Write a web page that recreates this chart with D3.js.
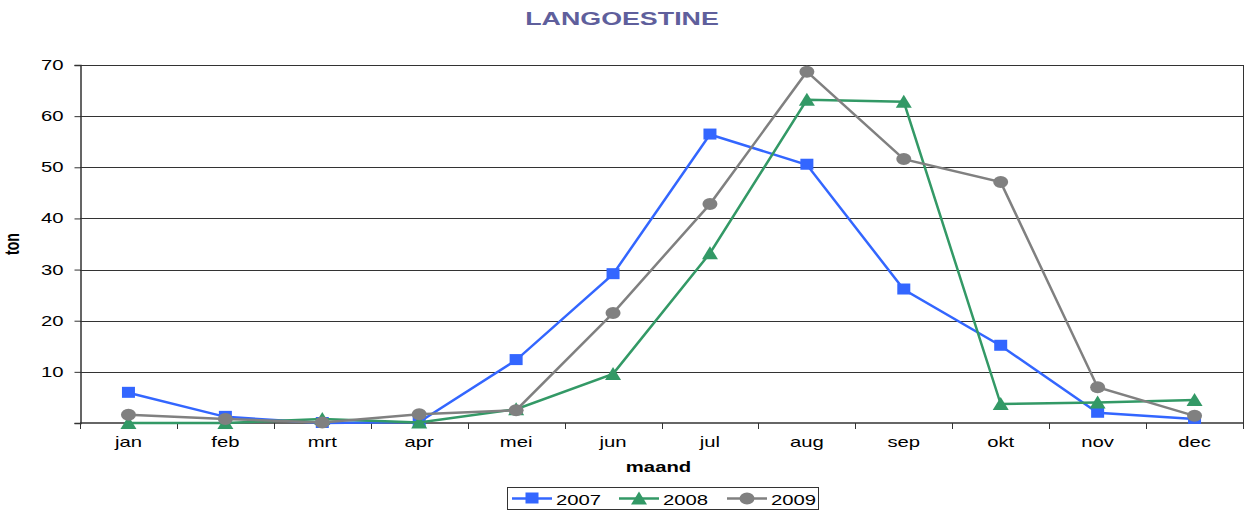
<!DOCTYPE html>
<html>
<head>
<meta charset="utf-8">
<script src="https://cdn.jsdelivr.net/npm/d3@7"></script>
<style>
  body { margin: 0; background: #fff; }
  svg { display: block; font-family: "Liberation Sans", Arial, sans-serif; }
</style>
</head>
<body>
<div id="chart"></div>
<script>
const months = ["jan", "feb", "mrt", "apr", "mei", "jun", "jul", "aug", "sep", "okt", "nov", "dec"];
const yTicks = [10, 20, 30, 40, 50, 60, 70];
const v2007 = [5.9, 1.2, 0, 0.2, 12.3, 29.1, 56.4, 50.5, 26.1, 15.1, 2.0, 0.8];
const v2008 = [0, 0, 0.8, 0.1, 2.7, 9.6, 33.2, 63.2, 62.8, 3.7, 4.0, 4.5];
const v2009 = [1.6, 0.8, 0.1, 1.7, 2.5, 21.5, 42.8, 68.7, 51.6, 47.1, 7.0, 1.4];

const series = [
  { name: "2007", values: v2007, color: "#3366ff", marker: "square" },
  { name: "2008", values: v2008, color: "#339966", marker: "triangle" },
  { name: "2009", values: v2009, color: "#808080", marker: "circle" },
];

const width = 1245, height = 512;
const margin = { top: 65, right: 2, bottom: 89, left: 80 };
const sx = 1.45; // the original text is drawn horizontally stretched

const svg = d3.select("#chart").append("svg")
  .attr("width", width).attr("height", height);

const x = d3.scaleBand().domain(months)
  .range([margin.left, width - margin.right]);
const y = d3.scaleLinear().domain([0, 70])
  .range([height - margin.bottom, margin.top]);

// stretched text at (px, py)
function label(g, px, py, str, size, anchor) {
  return g.append("text")
    .attr("transform", `translate(${px},${py}) scale(${sx},1)`)
    .attr("text-anchor", anchor || "middle")
    .attr("font-size", size)
    .attr("fill", "#000")
    .text(str);
}

// title
label(svg, 622, 25, "LANGOESTINE", 18.5)
  .attr("font-weight", "bold")
  .attr("fill", "#5f5f9c");

// gridlines
svg.append("g")
  .selectAll("line")
  .data(yTicks)
  .join("line")
  .attr("x1", margin.left).attr("x2", width - margin.right)
  .attr("y1", d => Math.round(y(d)) + 0.5).attr("y2", d => Math.round(y(d)) + 0.5)
  .attr("stroke", "#333").attr("stroke-width", 1);

// right border
svg.append("line")
  .attr("x1", width - margin.right + 0.5).attr("x2", width - margin.right + 0.5)
  .attr("y1", y(70)).attr("y2", y(0))
  .attr("stroke", "#333");

// y axis
const gY = svg.append("g")
  .attr("transform", `translate(${margin.left + 0.5},0)`)
  .call(d3.axisLeft(y).tickValues([0, ...yTicks]).tickSize(6).tickFormat(""));
gY.select(".domain").attr("stroke", "#333").attr("stroke-width", 1.5);
gY.selectAll(".tick line").attr("stroke", "#333");
yTicks.forEach(d => label(gY, -17, y(d) + 5, d, 14, "end"));

// x axis
const gX = svg.append("g")
  .attr("transform", `translate(0,${y(0)})`);
gX.append("line")
  .attr("x1", margin.left).attr("x2", width - margin.right)
  .attr("stroke", "#333").attr("stroke-width", 1.5);
gX.selectAll(".xtick")
  .data(months.map(m => x(m)).concat([width - margin.right]))
  .join("line")
  .attr("class", "xtick")
  .attr("x1", d => Math.round(d) + 0.5).attr("x2", d => Math.round(d) + 0.5)
  .attr("y1", 0).attr("y2", 6)
  .attr("stroke", "#333");
months.forEach(m => label(gX, x(m) + x.bandwidth() / 2, 24, m, 14));

// axis titles
label(svg, x("jul") - 3, 472, "maand", 14).attr("font-weight", "bold");
svg.append("text")
  .attr("transform", `translate(19,${(y(0) + y(70)) / 2}) scale(${sx},1) rotate(-90)`)
  .attr("text-anchor", "middle")
  .attr("font-size", 14).attr("font-weight", "bold")
  .text("ton");

function drawMarker(g, type, color) {
  if (type === "square") {
    g.append("rect").attr("x", -6.5).attr("y", -6).attr("width", 13).attr("height", 11)
      .attr("fill", color);
  } else if (type === "triangle") {
    g.append("path").attr("d", "M0,-7L8,6L-8,6Z").attr("fill", color);
  } else {
    g.append("ellipse").attr("rx", 7.5).attr("ry", 6).attr("fill", color);
  }
}

const line = d3.line()
  .x((d, i) => x(months[i]) + x.bandwidth() / 2)
  .y(d => y(d));

const gSeries = svg.append("g")
  .selectAll("g")
  .data(series)
  .join("g");

gSeries.append("path")
  .attr("d", d => line(d.values))
  .attr("fill", "none")
  .attr("stroke", d => d.color)
  .attr("stroke-width", 2.5);

gSeries.each(function (s) {
  d3.select(this).selectAll(".mk")
    .data(s.values)
    .join("g")
    .attr("class", "mk")
    .attr("transform", (d, i) => `translate(${x(months[i]) + x.bandwidth() / 2},${y(d)})`)
    .each(function () { drawMarker(d3.select(this), s.marker, s.color); });
});

// legend
const legend = svg.append("g");
legend.append("rect")
  .attr("x", 507.5).attr("y", 487.5).attr("width", 311).attr("height", 22)
  .attr("fill", "#fff").attr("stroke", "#333");
const legendX = [512, 619, 727];
const item = legend.selectAll(".item")
  .data(series)
  .join("g")
  .attr("class", "item")
  .attr("transform", (d, i) => `translate(${legendX[i]},498.5)`);
item.append("line")
  .attr("x1", 0).attr("x2", 40)
  .attr("stroke", d => d.color).attr("stroke-width", 2.5);
item.append("g")
  .attr("transform", "translate(20,0)")
  .each(function (d) { drawMarker(d3.select(this), d.marker, d.color); });
item.append("text")
  .attr("transform", `translate(44,6) scale(${sx},1)`)
  .attr("font-size", 14)
  .text(d => d.name);
</script>
</body>
</html>
